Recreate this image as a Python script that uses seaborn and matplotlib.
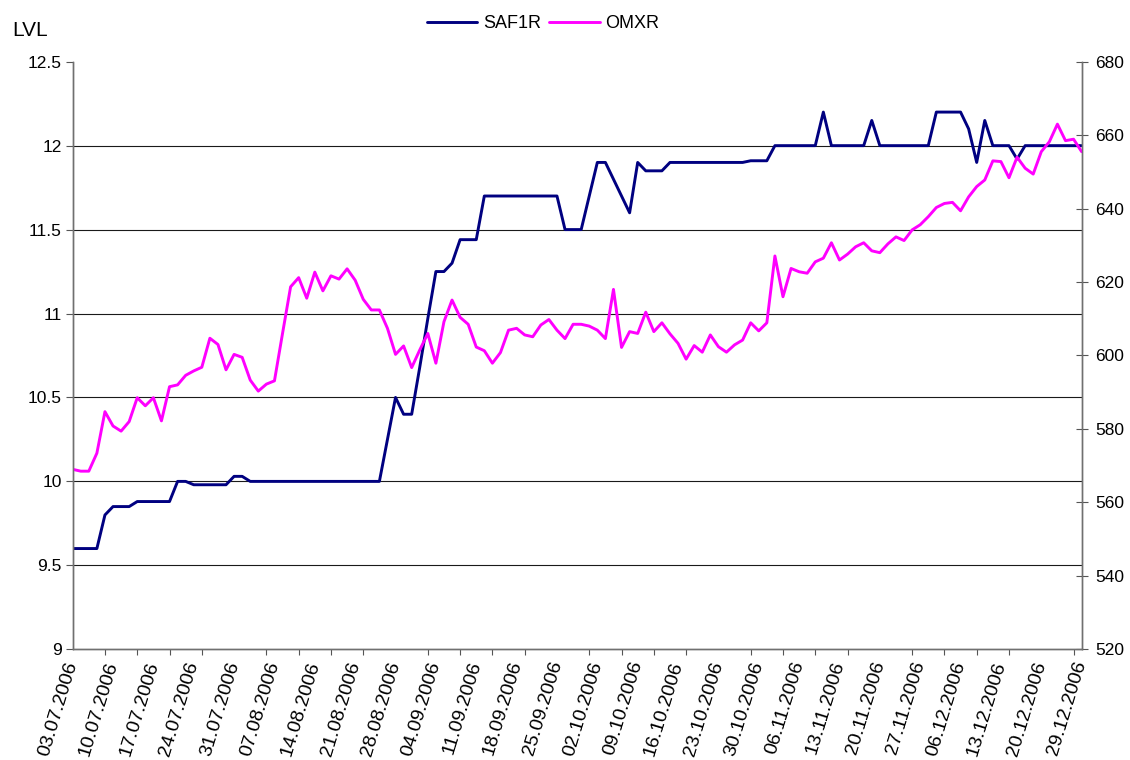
import numpy as np
import pandas as pd
import matplotlib
matplotlib.use("Agg")
import matplotlib.pyplot as plt
from matplotlib.ticker import FuncFormatter, MultipleLocator
import seaborn as sns

# SAF1R price (LVL, left axis), one value per trading day 03.07.2006 - 29.12.2006
saf1r = [9.6, 9.6, 9.6, 9.6, 9.8, 9.85, 9.85, 9.85,
         9.88, 9.88, 9.88, 9.88, 9.88, 10.0, 10.0,
         9.98, 9.98, 9.98, 9.98, 9.98, 10.03, 10.03,
         10.0, 10.0, 10.0, 10.0, 10.0, 10.0, 10.0, 10.0, 10.0,
         10.0, 10.0, 10.0, 10.0, 10.0, 10.0, 10.0, 10.0,
         10.25, 10.5, 10.4, 10.4, 10.68, 10.97, 11.25, 11.25, 11.3,
         11.44, 11.44, 11.44,
         11.7, 11.7, 11.7, 11.7, 11.7, 11.7, 11.7, 11.7, 11.7, 11.7,
         11.5, 11.5, 11.5, 11.7, 11.9, 11.9, 11.8, 11.7, 11.6, 11.9,
         11.85, 11.85, 11.85,
         11.9, 11.9, 11.9, 11.9, 11.9, 11.9, 11.9, 11.9, 11.9, 11.9,
         11.91, 11.91, 11.91,
         12.0, 12.0, 12.0, 12.0, 12.0, 12.0, 12.2,
         12.0, 12.0, 12.0, 12.0, 12.0, 12.15,
         12.0, 12.0, 12.0, 12.0, 12.0, 12.0, 12.0,
         12.2, 12.2, 12.2, 12.2, 12.1, 11.9, 12.15,
         12.0, 12.0, 12.0, 11.92,
         12.0, 12.0, 12.0, 12.0, 12.0, 12.0, 12.0, 12.0]

# OMXR index (right axis)
omxr = [569.0, 568.5, 568.5, 573.4, 584.7, 580.8, 579.4, 582.0, 588.5, 586.3,
        588.5, 582.2, 591.5, 592.0, 594.6, 595.8, 596.8, 604.7, 603.0, 596.1,
        600.3, 599.5, 593.3, 590.3, 592.2, 593.1, 606.0, 618.7, 621.2, 615.6,
        622.7, 617.6, 621.7, 620.8, 623.6, 620.5, 615.3, 612.4, 612.4, 607.4,
        600.3, 602.6, 596.7, 601.5, 606.0, 597.9, 609.2, 615.1, 610.4, 608.5,
        602.3, 601.3, 597.9, 600.8, 606.9, 607.4, 605.6, 605.1, 608.3, 609.8,
        606.9, 604.6, 608.5, 608.5, 608.0, 606.9, 604.6, 618.0, 602.2, 606.5,
        606.0, 611.8, 606.5, 608.9, 605.9, 603.3, 599.0, 602.7, 600.9, 605.6,
        602.4, 600.9, 602.9, 604.2, 608.9, 606.7, 608.9, 627.1, 616.0, 623.7,
        622.8, 622.4, 625.5, 626.5, 630.7, 626.0, 627.6, 629.6, 630.7, 628.5,
        628.0, 630.4, 632.3, 631.3, 634.2, 635.6, 637.8, 640.3, 641.4, 641.7,
        639.4, 643.2, 646.0, 647.8, 653.0, 652.8, 648.4, 654.0, 651.0, 649.4,
        655.5, 658.2, 663.0, 658.5, 658.9, 655.5]

# every 5th trading day is labelled
date_labels = ["03.07.2006", "10.07.2006", "17.07.2006", "24.07.2006", "31.07.2006",
               "07.08.2006", "14.08.2006", "21.08.2006", "28.08.2006", "04.09.2006",
               "11.09.2006", "18.09.2006", "25.09.2006", "02.10.2006", "09.10.2006",
               "16.10.2006", "23.10.2006", "30.10.2006", "06.11.2006", "13.11.2006",
               "20.11.2006", "27.11.2006", "06.12.2006", "13.12.2006", "20.12.2006",
               "29.12.2006"]

left_ticks = [9, 9.5, 10, 10.5, 11, 11.5, 12, 12.5]
right_ticks = [520, 540, 560, 580, 600, 620, 640, 660, 680]

df = pd.DataFrame({"day": np.arange(len(saf1r)), "SAF1R": saf1r, "OMXR": omxr})

sns.set_style("white")
plt.rcParams["font.family"] = ["Liberation Sans", "DejaVu Sans"]
plt.rcParams["text.color"] = "black"
plt.rcParams["xtick.labelcolor"] = "black"
plt.rcParams["ytick.labelcolor"] = "black"

fig = plt.figure(figsize=(11.3, 7.6), dpi=100)
ax = fig.add_axes([0.0643, 0.1457, 0.8929, 0.7731])
ax2 = ax.twinx()

sns.lineplot(data=df, x="day", y="SAF1R", ax=ax, color="#000080", linewidth=2.1, label="SAF1R", legend=False)
sns.lineplot(data=df, x="day", y="OMXR", ax=ax2, color="#FF00FF", linewidth=2.1, label="OMXR", legend=False)

n = len(saf1r)
ax.set_xlim(0, n - 1)
ax.set_ylim(left_ticks[0], left_ticks[-1])
ax2.set_ylim(right_ticks[0], right_ticks[-1])

# horizontal grid lines between the axis ends
for lvl in left_ticks[1:-1]:
    ax.axhline(lvl, color="#1a1a1a", linewidth=0.8, zorder=0)

ax.set_yticks(left_ticks)
ax.yaxis.set_major_formatter(FuncFormatter(lambda v, p: f"{v:g}"))
ax2.set_yticks(right_ticks)

ax.set_xticks(np.arange(0, n, 5))
ax.set_xticklabels(date_labels, rotation=73, ha="right", va="center", rotation_mode="anchor")
ax.xaxis.set_minor_locator(MultipleLocator(4))

ax.set_xlabel("")
ax.set_ylabel("")
ax2.set_ylabel("")

ax.tick_params(axis="y", which="major", direction="out", length=5, width=0.8, color="#555555",
               labelsize=12.5, labelcolor="black", pad=3, left=True)
ax.tick_params(axis="x", which="major", length=0, labelsize=14, labelcolor="black", pad=9)
ax.tick_params(axis="x", which="minor", direction="out", length=4, width=0.8, color="#555555", bottom=True)
ax2.tick_params(axis="y", direction="inout", length=8, width=0.8, color="#555555",
                labelsize=12.5, labelcolor="black", pad=6, right=True)

for a in (ax, ax2):
    a.spines["top"].set_visible(False)
    for s in ("left", "right", "bottom"):
        a.spines[s].set_color("#707070")
        a.spines[s].set_linewidth(1.0)

fig.text(0.0112, 0.96, "LVL", fontsize=15, ha="left", va="center", color="black")

h1, l1 = ax.get_legend_handles_labels()
h2, l2 = ax2.get_legend_handles_labels()
fig.legend(h1 + h2, l1 + l2, loc="center", bbox_to_anchor=(0.4805, 0.969), ncol=2, frameon=False,
           fontsize=13, handlelength=2.8, handletextpad=0.3, columnspacing=0.45, labelcolor="black")

fig.savefig("out.png", dpi=100)
